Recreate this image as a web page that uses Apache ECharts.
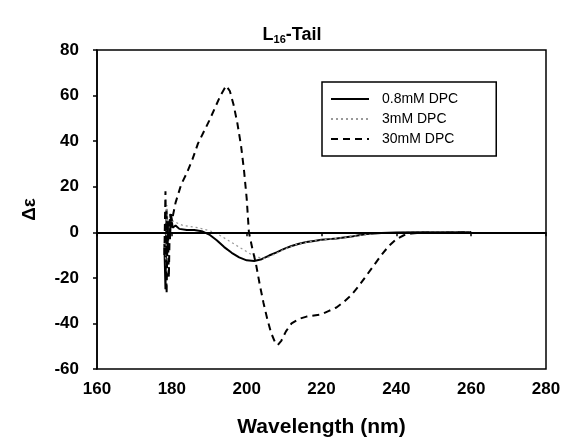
<!DOCTYPE html>
<html>
<head>
<meta charset="utf-8">
<script src="https://cdn.jsdelivr.net/npm/echarts@6/dist/echarts.min.js"></script>
<style>html,body{margin:0;padding:0;background:#fff}#c{width:569px;height:448px}</style>
</head>
<body>
<div id="c"></div>
<script>
var xTicks = [160, 180, 200, 220, 240, 260, 280];
var yTicks = [-60, -40, -20, 0, 20, 40, 60, 80];
var seriesNames = ['0.8mM DPC', '3mM DPC', '30mM DPC'];

var dpc08 = [[178,-5],[178.3,-25],[178.6,10],[178.9,-8],[179.2,5],[179.5,-3],[179.8,8],[180.2,2],[181,3],[182,1.5],[184,1],[186,1],[188,0.5],[190,-1],[192,-3.5],[194,-6.5],[196,-9],[198,-11],[200,-12.3],[202,-12.6],[204,-11.8],[206,-10.2],[208,-8.8],[210,-7.3],[212,-6],[214,-5],[216,-4.3],[218,-3.8],[220,-3.3],[222,-3],[224,-2.7],[226,-2.3],[228,-1.9],[230,-1.3],[232,-0.8],[234,-0.5],[236,-0.3],[238,-0.2],[240,-0.1],[245,0],[250,0],[255,0],[260,0]];
var dpc3 = [[178,0],[178.4,-15],[178.7,12],[179,-5],[179.4,8],[179.8,4],[180.5,5],[181.5,4],[183,3],[185,2.5],[187,2],[189,1.2],[191,0.2],[193,-1.5],[195,-3.5],[197,-5.5],[199,-7.5],[201,-9.5],[203,-11],[205,-11.5],[207,-10],[209,-8.3],[211,-6.8],[213,-5.5],[215,-4.6],[218,-3.8],[221,-3.2],[224,-2.7],[227,-2.1],[230,-1.4],[233,-0.8],[236,-0.4],[240,-0.1],[245,0],[250,0],[255,0],[260,0]];
var dpc30 = [[178,-10],[178.3,18],[178.6,-27],[178.9,5],[179.2,-20],[179.5,8],[180,5],[181,13],[182.5,21],[184,26],[185.5,32],[187,39],[188.5,44],[190,49],[191.5,54.5],[193,60],[194.5,64.3],[195.5,62],[196.5,56],[197.5,48],[198.5,38],[199.3,27],[200,15],[200.6,0],[201.5,-7],[202.5,-14],[203.5,-23],[204.5,-31],[205.5,-38],[206.5,-44],[207.5,-48],[208.3,-49.5],[209.3,-47.5],[210.5,-43.5],[212,-40],[214,-38],[216,-37],[218,-36.5],[220,-36],[222,-34.5],[224,-33],[226,-30.5],[228,-27.5],[230,-23.5],[232,-19],[234,-14.5],[236,-10],[238,-6],[240,-3],[242,-1.3],[244,-0.5],[247,-0.2],[250,-0.3],[255,-0.2],[260,0]];

var chart = echarts.init(document.getElementById('c'), null, {renderer: 'canvas'});
var font = 'Liberation Sans, Arial, sans-serif';
chart.setOption({
  animation: false,
  backgroundColor: '#fff',
  title: {
    text: 'L{sub|16}-Tail',
    left: 287, top: 20, textAlign: 'center',
    textStyle: {
      fontFamily: font, fontSize: 18, fontWeight: 'bold', color: '#000',
      rich: {sub: {fontFamily: font, fontSize: 11, fontWeight: 'bold', verticalAlign: 'bottom', padding: [9,0,0,0], color: '#000'}}
    }
  },
  grid: {left: 97, right: 23, top: 50, bottom: 79, show: true, borderColor: '#000', borderWidth: 1.5, backgroundColor: 'transparent'},
  legend: {
    orient: 'vertical', left: 322, top: 82,
    padding: [10, 38, 10, 8], itemGap: 6, itemWidth: 38, itemHeight: 14,
    borderColor: '#000', borderWidth: 1.5, backgroundColor: '#fff',
    itemStyle: {opacity: 0},
    textStyle: {fontFamily: font, fontSize: 14, color: '#000', padding: [0, 0, 0, 8]},
    data: seriesNames
  },
  xAxis: {
    type: 'value', min: xTicks[0], max: xTicks[xTicks.length-1], interval: 20,
    name: 'Wavelength (nm)', nameLocation: 'middle', nameGap: 48,
    nameTextStyle: {fontFamily: font, fontSize: 21, fontWeight: 'bold', color: '#000'},
    axisLine: {lineStyle: {color: '#000', width: 1.5}},
    axisTick: {show: true, inside: false, length: 4, lineStyle: {color: '#000', width: 1.5}},
    axisLabel: {fontFamily: font, fontSize: 17, fontWeight: 'bold', color: '#000', margin: 12},
    splitLine: {show: false}
  },
  yAxis: {
    type: 'value', min: yTicks[0], max: yTicks[yTicks.length-1], interval: 20,
    name: 'Δε', nameLocation: 'middle', nameGap: 58, nameRotate: 90,
    nameTextStyle: {fontFamily: font, fontSize: 19, fontWeight: 'bold', color: '#000'},
    axisLine: {onZero: false, lineStyle: {color: '#000', width: 1.5}},
    axisTick: {show: true, length: 4, lineStyle: {color: '#000', width: 1.5}},
    axisLabel: {fontFamily: font, fontSize: 17, fontWeight: 'bold', color: '#000', margin: 18},
    splitLine: {show: false}
  },
  series: [
    {name: seriesNames[0], type: 'line', data: dpc08, symbol: 'none', smooth: false,
     lineStyle: {color: '#000', width: 2, type: 'solid'}, itemStyle: {color: '#000'},
     markLine: {silent: true, symbol: 'none', label: {show: false}, lineStyle: {color: '#000', width: 2, type: 'solid'}, data: [{yAxis: 0}]}},
    {name: seriesNames[1], type: 'line', data: dpc3, symbol: 'none',
     lineStyle: {color: '#999', width: 1.2, type: [2, 3]}, itemStyle: {color: '#999'}},
    {name: seriesNames[2], type: 'line', data: dpc30, symbol: 'none',
     lineStyle: {color: '#000', width: 2, type: [7, 5]}, itemStyle: {color: '#000'}}
  ]
});
</script>
</body>
</html>
